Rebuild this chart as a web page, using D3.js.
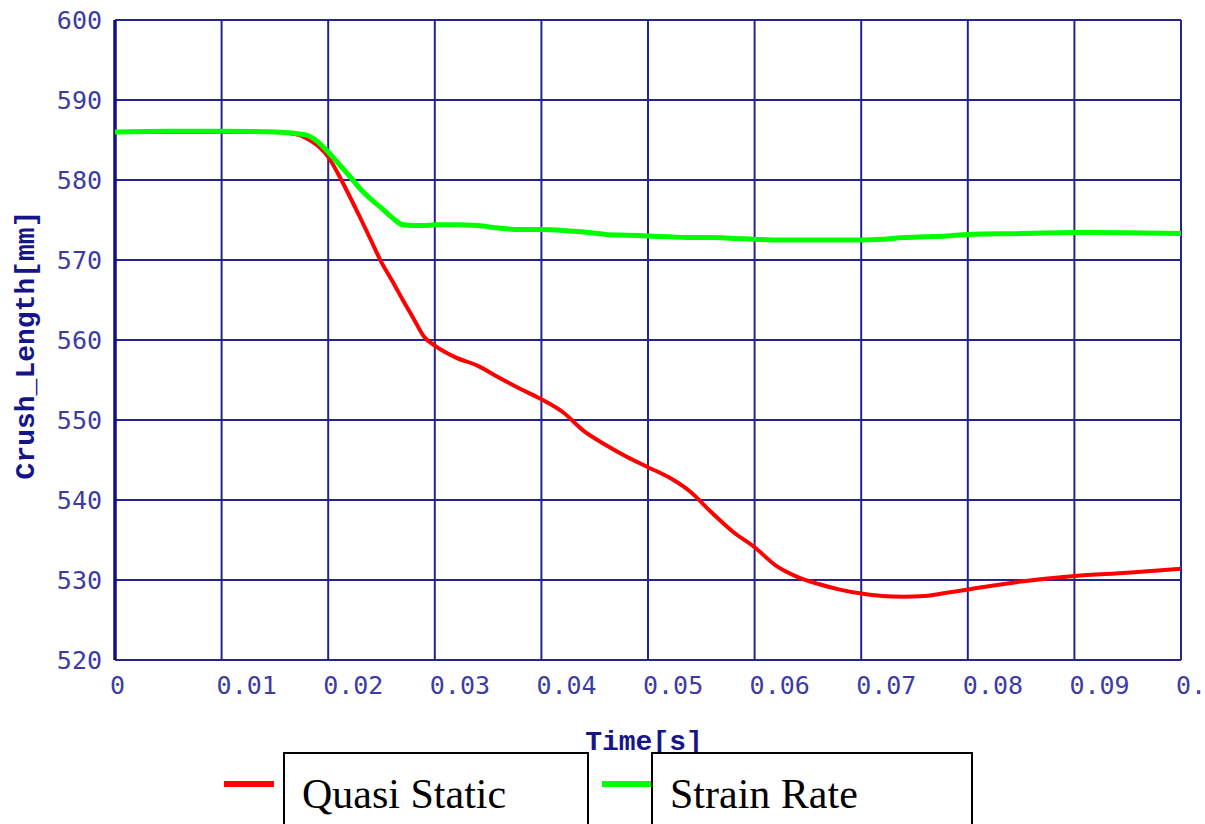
<!DOCTYPE html>
<html>
<head>
<meta charset="utf-8">
<script src="https://cdn.jsdelivr.net/npm/d3@7"></script>
<style>
  html, body { margin: 0; padding: 0; background: #fff; overflow: hidden; }
</style>
</head>
<body>
<div id="chart"></div>
<script>
// time samples [s]
const times = [0, 0.005, 0.01, 0.015, 0.017, 0.018, 0.019, 0.02, 0.021, 0.022, 0.023, 0.024,
  0.025, 0.026, 0.027, 0.028, 0.029, 0.03, 0.032, 0.034, 0.036, 0.038, 0.04, 0.042, 0.044,
  0.046, 0.048, 0.05, 0.052, 0.054, 0.056, 0.058, 0.06, 0.062, 0.064, 0.066, 0.068, 0.07,
  0.072, 0.074, 0.076, 0.078, 0.08, 0.085, 0.09, 0.095, 0.1];

// crush length [mm]
const quasiStatic = [586, 586, 586, 586, 585.7, 585.2, 584.3, 582.9, 580.6, 578.0, 575.3, 572.5,
  569.7, 567.4, 565.0, 562.7, 560.4, 559.3, 557.8, 556.8, 555.3, 553.9, 552.6, 551.0, 548.6,
  546.9, 545.4, 544.1, 542.8, 541.0, 538.4, 536.0, 534.1, 531.8, 530.4, 529.5, 528.8, 528.3,
  528.0, 527.9, 528.0, 528.4, 528.8, 529.8, 530.5, 530.9, 531.4];

const strainRate = [586, 586.1, 586.1, 586, 585.8, 585.6, 584.8, 583.5, 582.0, 580.5, 578.9, 577.6,
  576.5, 575.3, 574.4, 574.3, 574.3, 574.4, 574.4, 574.3, 574.0, 573.8, 573.8, 573.7, 573.5,
  573.2, 573.1, 573.0, 572.9, 572.8, 572.8, 572.7, 572.6, 572.5, 572.5, 572.5, 572.5, 572.5,
  572.6, 572.8, 572.9, 573.0, 573.2, 573.3, 573.45, 573.4, 573.3];

const xTicks = [0, 0.01, 0.02, 0.03, 0.04, 0.05, 0.06, 0.07, 0.08, 0.09, 0.1];
const xTickLabels = ["0", "0.01", "0.02", "0.03", "0.04", "0.05", "0.06", "0.07", "0.08", "0.09", "0.1"];
const yTicks = [520, 530, 540, 550, 560, 570, 580, 590, 600];

const seriesNames = ["Quasi Static", "Strain Rate"];
const seriesColors = ["#ff0000", "#00ff00"];

const W = 1205, H = 824;
const margin = { top: 20, right: 24, bottom: 164, left: 115 };
const width = W - margin.left - margin.right;
const height = H - margin.top - margin.bottom;
const gridColor = "#24248c";
const tickColor = "#3c3ca4";

const svg = d3.select("#chart").append("svg")
  .attr("width", W).attr("height", H);

const g = svg.append("g")
  .attr("transform", `translate(${margin.left},${margin.top})`);

const x = d3.scaleLinear().domain([0, 0.1]).range([0, width]);
const y = d3.scaleLinear().domain([520, 600]).range([height, 0]);

// grid
g.append("g").selectAll("line").data(xTicks).join("line")
  .attr("x1", d => x(d)).attr("x2", d => x(d))
  .attr("y1", 0).attr("y2", height)
  .attr("stroke", gridColor).attr("stroke-width", 2);
g.append("g").selectAll("line").data(yTicks).join("line")
  .attr("x1", 0).attr("x2", width)
  .attr("y1", d => y(d)).attr("y2", d => y(d))
  .attr("stroke", gridColor).attr("stroke-width", 2);

// left axis (thicker)
g.append("line")
  .attr("x1", 0).attr("x2", 0).attr("y1", 0).attr("y2", height)
  .attr("stroke", "#10107f").attr("stroke-width", 3.5);

// tick labels
g.append("g").selectAll("text").data(yTicks).join("text")
  .attr("x", -13).attr("y", d => y(d)).attr("dy", "0.36em")
  .attr("text-anchor", "end")
  .attr("font-family", "DejaVu Sans Mono, monospace")
  .attr("font-size", 25)
  .attr("fill", tickColor)
  .text(d => d);

// last label runs off the right edge, as in the original
g.append("g").selectAll("text").data(xTicks).join("text")
  .attr("x", d => x(d) - 5).attr("y", height + 34)
  .attr("text-anchor", "start")
  .attr("font-family", "DejaVu Sans Mono, monospace")
  .attr("font-size", 25)
  .attr("fill", tickColor)
  .text((d, i) => xTickLabels[i]);

// axis titles
svg.append("text")
  .attr("x", 644).attr("y", 750)
  .attr("text-anchor", "middle")
  .attr("font-family", "Liberation Mono, monospace")
  .attr("font-weight", "bold")
  .attr("font-size", 28)
  .attr("fill", "#15158a")
  .text("Time[s]");

svg.append("text")
  .attr("transform", "translate(34,345) rotate(-90)")
  .attr("text-anchor", "middle")
  .attr("font-family", "Liberation Mono, monospace")
  .attr("font-weight", "bold")
  .attr("font-size", 28)
  .attr("fill", "#15158a")
  .text("Crush_Length[mm]");

// lines
const line = d3.line()
  .x((d, i) => x(times[i]))
  .y(d => y(d))
  .curve(d3.curveMonotoneX);

[quasiStatic, strainRate].forEach((s, k) => {
  g.append("path")
    .datum(s)
    .attr("fill", "none")
    .attr("stroke", seriesColors[k])
    .attr("stroke-width", k === 0 ? 4 : 5)
    .attr("stroke-linejoin", "round")
    .attr("d", line);
});

// legend
const legendX = [224, 602];
const boxX = [284, 652];
const boxW = [304, 320];
seriesNames.forEach((name, k) => {
  svg.append("line")
    .attr("x1", legendX[k]).attr("x2", legendX[k] + 50)
    .attr("y1", 784).attr("y2", 784)
    .attr("stroke", seriesColors[k]).attr("stroke-width", 6);
  svg.append("rect")
    .attr("x", boxX[k]).attr("y", 753)
    .attr("width", boxW[k]).attr("height", 100)
    .attr("fill", "#fff")
    .attr("stroke", "#000").attr("stroke-width", 2);
  svg.append("text")
    .attr("x", boxX[k] + 18).attr("y", 808)
    .attr("font-family", "Liberation Serif, Times New Roman, serif")
    .attr("font-size", 42)
    .attr("fill", "#000")
    .text(name);
});
</script>
</body>
</html>
